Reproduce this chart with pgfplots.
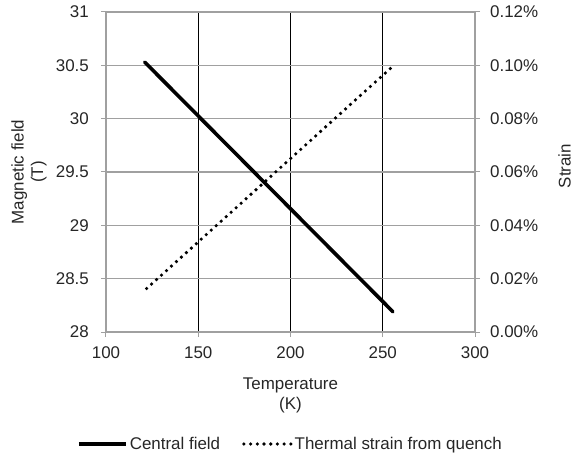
\documentclass[border=0pt]{standalone}
\usepackage{pgfplots}
\pgfplotsset{compat=1.18}
\usepackage{fontspec}
\setmainfont{Liberation Sans}
\definecolor{txt}{HTML}{262626}
\definecolor{gridgray}{HTML}{A0A0A0}
\begin{document}
\begin{tikzpicture}[font=\fontsize{17}{19.5}\selectfont]
\path[use as bounding box] (-106bp,-122bp) rectangle (469bp,332bp);
\begin{axis}[
  at={(0,0)}, anchor=south west, scale only axis,
  width=369bp, height=320bp,
  xmin=100, xmax=300, ymin=28, ymax=31,
  xtick={100,150,200,250,300}, xticklabels={100,150,200,250,300},
  ytick={28,28.5,29,29.5,30,30.5,31}, yticklabels={28,28.5,29,29.5,30,30.5,31},
  xtick pos=left, ytick pos=left, tick align=outside,
  major tick length=5bp,
  tick style={gridgray, line width=1bp},
  axis line style={gridgray, line width=1.2bp},
  xmajorgrids, ymajorgrids,
  x grid style={black, line width=0.9bp},
  y grid style={gridgray, line width=1.2bp},
  xticklabel style={anchor=north, inner sep=0pt, yshift=-9.5bp, text=txt},
  yticklabel style={anchor=east, inner sep=0pt, xshift=-12bp, text=txt},
  xlabel={Temperature\\(K)},
  ylabel={Magnetic field\\(T)},
  every axis x label/.style={at={(axis description cs:0.5,0)}, anchor=north, yshift=-46bp, inner sep=0pt, align=center, text=txt},
  every axis y label/.style={at={(axis description cs:0,0.5)}, anchor=center, xshift=-77bp, rotate=90, inner sep=0pt, align=center, text=txt},
]
\addplot[black, line width=3.6bp, line cap=round] coordinates {(121,30.53) (255.5,28.19)};
\end{axis}
\begin{axis}[
  at={(0,0)}, anchor=south west, scale only axis,
  width=369bp, height=320bp,
  xmin=100, xmax=300, ymin=0, ymax=0.12,
  xtick=\empty,
  ytick={0,0.02,0.04,0.06,0.08,0.10,0.12},
  yticklabels={0.00\%,0.02\%,0.04\%,0.06\%,0.08\%,0.10\%,0.12\%},
  ytick pos=right, yticklabel pos=right, tick align=outside,
  major tick length=5bp,
  tick style={gridgray, line width=1bp},
  axis line style={draw=none},
  yticklabel style={anchor=west, inner sep=0pt, xshift=10bp, text=txt},
  ylabel={Strain},
  every axis y label/.style={at={(axis description cs:1,0.5)}, anchor=base, xshift=95.5bp, yshift=6bp, rotate=90, inner sep=0pt, text=txt},
  legend columns=2,
  legend style={at={(axis description cs:0.5,0)}, anchor=center, yshift=-112bp, xshift=0bp, draw=none, fill=none, text=txt, /tikz/every even column/.append style={column sep=20bp}},
  legend image code/.code={\draw[#1] (0bp,0bp) -- (47bp,0bp);},
]
\addlegendimage{black, line width=3.6bp}
\addlegendentry{Central field}
\addplot[black, line width=3.6bp, line cap=round, dash pattern=on 0pt off 6.7bp] coordinates {(122,0.0163) (256,0.100)};
\addlegendentry{Thermal strain from quench}
\end{axis}
\end{tikzpicture}
\end{document}
